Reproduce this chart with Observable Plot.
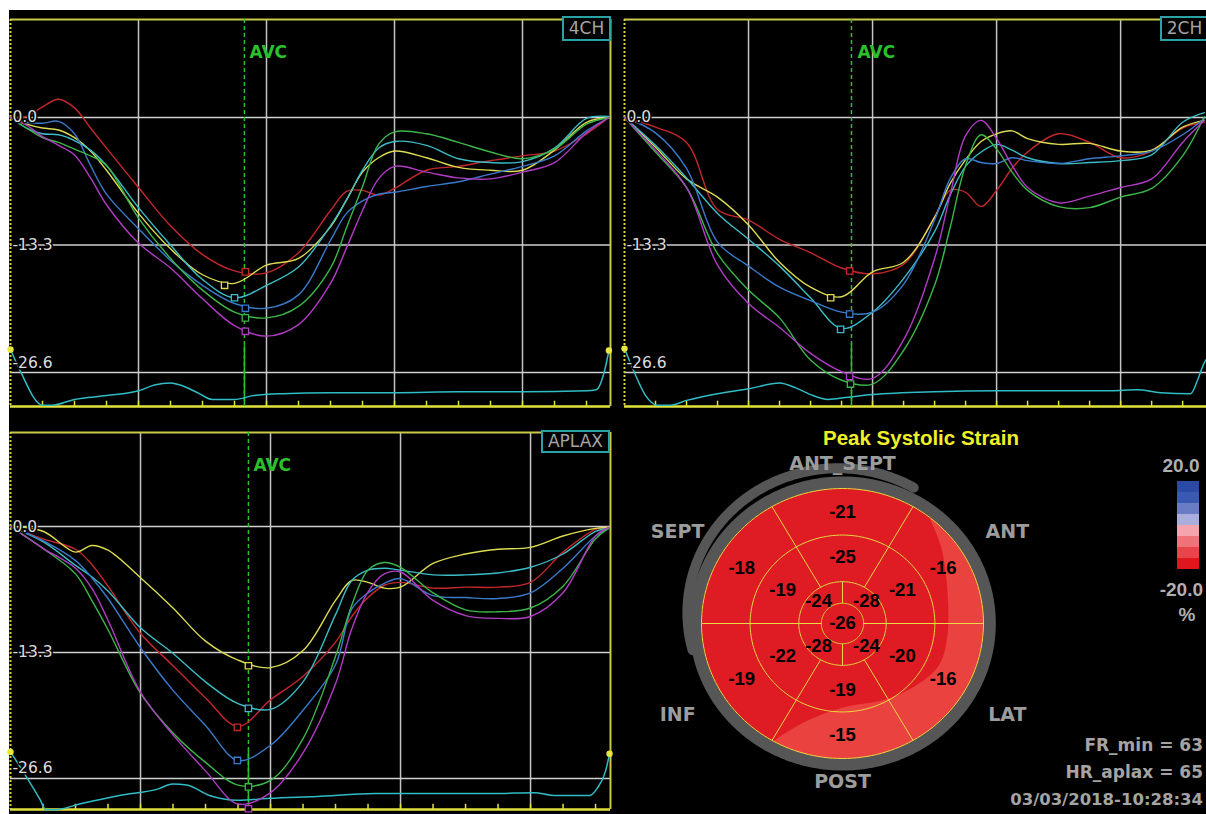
<!DOCTYPE html>
<html><head><meta charset="utf-8">
<script src="https://cdn.jsdelivr.net/npm/d3@7"></script>
<script src="https://cdn.jsdelivr.net/npm/@observablehq/plot@0.6"></script>
<style>
html,body{margin:0;padding:0;background:#fff;overflow:hidden;width:1206px;height:814px;position:relative;}
#bg{position:absolute;left:9px;top:10px;width:1197px;height:804px;background:#000;}
</style></head><body>
<div id="bg"></div>
<script>
// ================= DATA =================
const segmentNames = ["seg 1","seg 2","seg 3","seg 4","seg 5","seg 6"];
const segmentColors = ["#c4282c","#dcdc52","#3cbcc6","#3a7acb","#3cb64a","#b03cc4"];
const yTicks = [0, -13.3, -26.6];
const yTickLabels = ["0.0", "-13.3", "-26.6"];
const gridFrames = [4, 8, 12, 16];

// ---- 4CH ----
const frames4CH = [0,0.5,1,1.5,2,2.5,3,4,5,6,7,8,9,10,10.5,11,11.5,12,13,14,15,16,17,18,18.7];
const red4CH    = [0,0.1,1.1,1.9,1.0,-1.1,-3.2,-7.3,-11.3,-14.3,-16.0,-16.2,-14.1,-9.7,-7.7,-7.6,-8.1,-7.4,-5.5,-5.1,-4.5,-4.0,-3.5,-1.7,0];
const yellow4CH = [0,-0.7,-1.1,-1.3,-2.1,-3.5,-5.5,-10.0,-13.7,-16.4,-17.3,-15.4,-14.7,-11.4,-8.6,-5.7,-4.2,-3.5,-4.2,-5.2,-5.5,-5.5,-3.4,-0.5,0];
const cyan4CH   = [0,-1.1,-1.7,-1.8,-2.4,-3.4,-5.0,-9.4,-13.3,-16.9,-18.8,-17.5,-15.6,-11.3,-8.6,-5.5,-3.2,-2.5,-2.9,-4.3,-4.7,-4.6,-3.2,-0.1,0.1];
const blue4CH   = [0,-0.5,-0.6,-0.4,-1.7,-5.0,-8.0,-11.6,-14.9,-17.5,-19.4,-19.9,-18.5,-12.8,-10.0,-8.7,-8.0,-7.8,-7.2,-6.7,-5.9,-5.1,-4.0,-1.4,0];
const green4CH  = [0,-1.1,-2.1,-2.6,-3.3,-4.0,-5.0,-10.5,-14.7,-18.0,-20.3,-20.9,-19.7,-15.7,-11.5,-7.2,-2.8,-1.5,-1.7,-2.6,-3.6,-4.3,-3.3,-0.7,0];
const purple4CH = [0,-0.8,-2.0,-2.9,-3.9,-6.3,-9.1,-13.1,-15.7,-18.9,-21.7,-22.8,-21.6,-17.3,-13.6,-9.7,-6.4,-5.1,-5.7,-6.3,-6.4,-5.7,-4.7,-1.6,0];
const peakFrame4CH = [7.34,6.69,7.0,7.34,7.34,7.34];
const peakStrain4CH = [-16.1,-17.5,-18.8,-19.9,-20.9,-22.3];
const ecgFrames4CH = [0,0.3,1,1.3,2,3,4,4.5,5,5.3,5.9,6.3,7,7.6,8.5,10,12,14,16,18,18.3,18.55,18.7];
const ecg4CH = [-24.2,-26.4,-30.0,-30.0,-29.4,-29.0,-28.5,-27.9,-27.7,-27.9,-28.8,-29.4,-29.4,-29.0,-28.8,-28.7,-28.7,-28.6,-28.6,-28.5,-28.4,-26.6,-24.3];
const avc4CH = 7.31;

// ---- 2CH ----
const frames2CH = [0,1,2,3,4,5,6,7,8,9,10,10.5,11,11.5,12,12.5,13,14,15,16,17,18,18.7];
const red2CH    = [0,-1.0,-2.6,-9.6,-10.7,-12.7,-14.1,-15.7,-16.3,-15.3,-10.4,-7.6,-7.8,-9.3,-7.6,-5.3,-3.6,-1.7,-2.6,-4.2,-3.5,-1.1,-0.5];
const yellow2CH = [0,-3.1,-6.4,-8.3,-11.2,-15.1,-17.7,-18.7,-16.1,-15.1,-10.4,-6.9,-4.4,-2.5,-1.7,-1.4,-2.2,-2.8,-2.7,-3.5,-3.4,-1.0,-0.3];
const cyan2CH   = [0,-2.9,-6.3,-10.0,-12.7,-15.5,-18.8,-22.0,-20.3,-16.8,-11.9,-8.1,-5.1,-3.6,-2.8,-3.4,-4.2,-4.8,-4.7,-4.5,-3.9,-0.5,0.5];
const blue2CH   = [0,-1.6,-5.3,-13.0,-15.5,-17.7,-19.1,-20.3,-20.3,-17.4,-10.7,-6.4,-4.3,-4.7,-4.8,-4.2,-4.5,-4.8,-4.3,-4.0,-3.5,-1.8,-0.1];
const green2CH  = [0,-3.6,-7.3,-14.2,-18.0,-20.9,-25.3,-27.4,-27.8,-24.3,-17.5,-11.5,-5.0,-1.8,-3.3,-5.7,-7.6,-9.3,-9.4,-8.3,-7.4,-4.0,0.1];
const purple2CH = [0,-3.4,-7.3,-15.4,-19.4,-21.9,-24.6,-26.5,-27.2,-23.2,-14.7,-8.1,-1.9,-0.3,-2.2,-5.0,-7.3,-8.9,-8.2,-7.3,-6.4,-2.6,-0.3];
const peakFrame2CH = [7.26,6.65,6.97,7.26,7.29,7.26];
const peakStrain2CH = [-16.0,-18.8,-22.1,-20.5,-27.8,-27.0];
const ecgFrames2CH = [0,0.32,0.68,1.06,1.48,2,3,4,5,5.52,6,6.58,7.13,8,10,12,14,15.68,16.52,17.29,18.26,18.48,18.68,19.0];
const ecg2CH = [-24.1,-26.6,-29.0,-30.0,-30.0,-29.5,-28.8,-28.3,-27.7,-28.2,-28.9,-29.4,-29.2,-28.9,-28.6,-28.5,-28.5,-28.5,-28.4,-28.7,-28.8,-27.4,-25.7,-24.3];
const avc2CH = 7.32;

// ---- APLAX ----
const framesAPLAX = [0,1,2,2.5,3,4,5,6,7,8,9,10,10.5,11,11.5,12,13,14,15,16,17,18,18.4];
const redAPLAX    = [0,-1.3,-2.4,-4.0,-6.3,-11.3,-14.7,-18.1,-21.1,-18.3,-15.8,-12.2,-9.5,-7.5,-6.2,-5.9,-6.5,-6.4,-6.4,-5.9,-2.7,-0.3,-0.1];
const yellowAPLAX = [0,-0.5,-2.7,-2.0,-2.5,-5.4,-8.6,-12.1,-14.1,-14.9,-13.1,-7.8,-5.7,-5.9,-6.5,-6.4,-3.9,-2.9,-2.4,-2.2,-1.0,-0.2,-0.1];
const cyanAPLAX   = [0,-1.6,-4.1,-5.3,-6.8,-10.7,-13.4,-16.4,-18.7,-19.3,-16.4,-9.3,-5.7,-4.6,-4.4,-4.6,-5.1,-5.1,-4.9,-4.3,-2.9,-0.5,-0.2];
const blueAPLAX   = [0,-1.5,-3.6,-5.4,-7.6,-12.8,-17.3,-21.0,-24.7,-23.1,-19.4,-14.6,-8.7,-7.0,-6.0,-5.5,-7.3,-7.5,-7.6,-7.0,-4.4,-1.0,-0.2];
const greenAPLAX  = [0,-2.3,-5.0,-7.8,-10.9,-17.6,-21.8,-24.9,-27.3,-26.8,-22.4,-13.7,-8.3,-4.6,-3.8,-4.3,-7.0,-8.8,-9.0,-8.6,-6.3,-1.3,-0.2];
const purpleAPLAX = [0,-2.3,-4.4,-6.5,-9.9,-17.5,-22.0,-25.8,-29.3,-28.1,-23.9,-16.6,-10.8,-6.9,-5.0,-4.8,-7.8,-9.4,-9.7,-9.5,-7.0,-1.0,-0.1];
const peakFrameAPLAX = [6.98,7.32,7.32,6.98,7.32,7.32];
const peakStrainAPLAX = [-21.2,-14.7,-19.2,-24.7,-27.5,-29.8];
const ecgFramesAPLAX = [0,0.43,0.92,1.08,1.38,2.12,3.35,4.55,4.98,5.42,6.12,6.98,7.97,9.42,11.23,13.08,14.89,16.12,16.71,17.82,18.06,18.31,18.43];
const ecgAPLAX = [-23.8,-26.1,-28.9,-29.9,-29.9,-29.3,-28.4,-27.7,-27.2,-27.3,-28.4,-28.9,-28.7,-28.5,-28.2,-28.2,-28.2,-28.1,-28.4,-28.4,-27.6,-25.8,-24.0];
const avcAPLAX = 7.32;

// ---- Bull's-eye (peak systolic strain, %) ----
const basalNames   = ["ANT_SEPT","ANT","LAT","POST","INF","SEPT"];
const basalAngles  = [90,30,-30,-90,-150,150];
const basalStrain  = [-21,-16,-16,-15,-19,-18];
const midStrain    = [-25,-21,-20,-19,-22,-19];
const apicalAngles = [45,-45,-135,135];
const apicalStrain = [-28,-24,-28,-24];
const apexStrain   = -26;
// less-negative (lighter) zone edge of the smoothed map: angle (deg) and radius
const lightBandAngles = [51,39,20,-8,-25,-43,-62,-89,-109,-119];
const lightBandRadii  = [0.99,0.90,0.79,0.75,0.75,0.69,0.64,0.62,0.76,0.99];

// ---- colour legend ----
const legendColors = ["#2a4aa6","#3a5ab2","#6a7cc4","#a9aedc","#f4a4ac","#ee7278","#e8444a","#e0161e"];
const legendMaxLabel = "20.0", legendMinLabel = "-20.0", legendUnit = "%";
const infoLines = ["FR_min = 63", "HR_aplax = 65", "03/03/2018-10:28:34"];

// ================= HELPERS =================
function mount(node, left, top) {
  const w = document.createElement("div");
  Object.assign(w.style, {position:"absolute", left:left+"px", top:top+"px"});
  w.appendChild(node); document.body.appendChild(w);
}
function addText(txt, x, y, o = {}) {
  const d = document.createElement("div");
  d.textContent = txt;
  const tx = o.anchor === "middle" ? "-50%" : o.anchor === "end" ? "-100%" : "0";
  Object.assign(d.style, {
    position:"absolute", left:x+"px", top:y+"px",
    font:`${o.weight||"bold"} ${o.size||17}px ${o.family||"'DejaVu Sans'"}`,
    color:o.color||"#a8a8a8", lineHeight:"1", whiteSpace:"nowrap",
    transform:`translate(${tx},-50%)`
  });
  document.body.appendChild(d);
}
function addBox(txt, x, y, w, h) {
  const d = document.createElement("div");
  d.textContent = txt;
  Object.assign(d.style, {position:"absolute", left:x+"px", top:y+"px", width:w+"px", height:h+"px",
    boxSizing:"border-box", border:"2px solid #2aa3a6", color:"#a4a4a4", font:"17px 'DejaVu Sans'",
    textAlign:"center", lineHeight:(h-4)+"px", whiteSpace:"nowrap", overflow:"hidden", background:"#000"});
  document.body.appendChild(d);
}

function panel(c) {
  const rows = [];
  c.series.forEach((arr, i) => arr.forEach((v, j) => rows.push({seg: segmentNames[i], f: c.frames[j], v})));
  const peaks = c.peakFrames.map((f, i) => ({seg: segmentNames[i], f, v: c.peakStrain[i]}));
  const ecg = c.ecgFrames.map((f, i) => ({f, v: c.ecg[i]}));
  const [yMin, yMax] = c.yDomain;
  const ticks = d3.range(1, Math.ceil(c.xMax));
  const lblFont = {fontFamily:"DejaVu Sans", fontSize:15.5, fill:"#dcdcdc", stroke:"black", strokeWidth:3, textAnchor:"start"};
  return Plot.plot({
    width: c.width, height: c.height,
    marginLeft: 10, marginRight: 10, marginTop: 19, marginBottom: 6,
    x: {domain: [0, c.xMax], axis: null},
    y: {domain: c.yDomain, axis: null},
    color: {type: "ordinal", domain: segmentNames, range: segmentColors},
    style: "background:transparent;max-width:none;overflow:visible;",
    marks: [
      Plot.ruleX(gridFrames, {stroke: "#c4c4c4", strokeWidth: 1.5}),
      Plot.ruleY(yTicks, {stroke: "#d0d0d0", strokeWidth: 1.5}),
      Plot.ruleY([yMax], {stroke: "#c8c84c", strokeWidth: 2}),
      Plot.ruleX([0], {stroke: "#d8d040", strokeWidth: 2, strokeDasharray: "2,2"}),
      c.rightBorder ? Plot.ruleX([c.xMax], {stroke: "#c8c84c", strokeWidth: 2}) : null,
      Plot.ruleY([yMin], {stroke: "#e2e23c", strokeWidth: 2.5}),
      Plot.ruleX(ticks, {y1: yMin, y2: yMin + 0.55, stroke: "#e2e23c", strokeWidth: 1.5}),
      Plot.ruleX([c.avc], {stroke: "#2cc02c", strokeWidth: 1.5, strokeDasharray: "4,3"}),
      Plot.ruleX([c.avc], {y1: yMin, y2: c.avcSolidTop, stroke: "#2cc02c", strokeWidth: 1.5}),
      Plot.line(ecg, {x: "f", y: "v", stroke: "#30bcc4", strokeWidth: 1.5, curve: "monotone-x"}),
      Plot.dot([ecg[0], ecg[ecg.length - 1]], {x: "f", y: "v", r: 3.2, fill: "#e8e83a"}),
      Plot.line(rows, {x: "f", y: "v", z: "seg", stroke: "seg", strokeWidth: 1.4, curve: "catmull-rom"}),
      Plot.dot(peaks, {x: "f", y: "v", stroke: "seg", symbol: "square", r: 3.6, fill: "black", strokeWidth: 1.3}),
      Plot.text(yTicks.slice(0, 2), {x: 0, y: d => d, text: (d, i) => yTickLabels[i], dx: 2, ...lblFont}),
      Plot.text([yTicks[2]], {x: 0, y: d => d, text: () => yTickLabels[2], dx: 2, dy: -10, ...lblFont}),
      Plot.text(["AVC"], {x: c.avc, frameAnchor: "top", dx: c.avcDx, dy: 26, textAnchor: "start",
        fill: "#2cc02c", fontWeight: "bold", fontSize: 17, fontFamily: "DejaVu Sans"})
    ]
  });
}

// ================= PANELS =================
mount(panel({
  width: 620, height: 412, xMax: 18.75, yDomain: [-30.14, 10.22], rightBorder: true,
  frames: frames4CH, series: [red4CH, yellow4CH, cyan4CH, blue4CH, green4CH, purple4CH],
  peakFrames: peakFrame4CH, peakStrain: peakStrain4CH,
  ecgFrames: ecgFrames4CH, ecg: ecg4CH, avc: avc4CH, avcSolidTop: -23.8, avcDx: 5
}), 0, 0);
mount(panel({
  width: 620, height: 412, xMax: 19.35, yDomain: [-30.14, 10.22], rightBorder: false,
  frames: frames2CH, series: [red2CH, yellow2CH, cyan2CH, blue2CH, green2CH, purple2CH],
  peakFrames: peakFrame2CH, peakStrain: peakStrain2CH,
  ecgFrames: ecgFrames2CH, ecg: ecg2CH, avc: avc2CH, avcSolidTop: -23.6, avcDx: 6
}), 614, 0);
mount(panel({
  width: 620, height: 402, xMax: 18.46, yDomain: [-29.88, 9.93], rightBorder: true,
  frames: framesAPLAX, series: [redAPLAX, yellowAPLAX, cyanAPLAX, blueAPLAX, greenAPLAX, purpleAPLAX],
  peakFrames: peakFrameAPLAX, peakStrain: peakStrainAPLAX,
  ecgFrames: ecgFramesAPLAX, ecg: ecgAPLAX, avc: avcAPLAX, avcSolidTop: -23.7, avcDx: 5
}), 0, 413);

addBox("4CH", 562, 16, 49, 25);
addBox("2CH", 1160, 16, 49, 25);
addBox("APLAX", 541, 430, 69, 23);

// ================= BULL'S-EYE =================
const RING = {outer: 1, mid: 0.655, apical: 0.31, apex: 0.15};
const polar = (r, deg) => [r * Math.cos(deg * Math.PI / 180), r * Math.sin(deg * Math.PI / 180)];
function arc(r, a0, a1, cx = 0, cy = 0) {
  const n = Math.max(2, Math.ceil(Math.abs(a1 - a0) / 2) + 1);
  return d3.range(n).map(i => { const [x, y] = polar(r, a0 + (a1 - a0) * i / (n - 1)); return {x: x + cx, y: y + cy}; });
}
function sector(id, r0, r1, a0, a1) {
  const pts = r0 > 0 ? [...arc(r1, a0, a1), ...arc(r0, a1, a0)] : arc(r1, a0, a1);
  return pts.map(p => ({...p, id}));
}
const segPolys = [];
basalAngles.forEach((a, i) => segPolys.push(...sector("b" + i, RING.mid, RING.outer, a - 30, a + 30)));
basalAngles.forEach((a, i) => segPolys.push(...sector("m" + i, RING.apical, RING.mid, a - 30, a + 30)));
apicalAngles.forEach((a, i) => segPolys.push(...sector("a" + i, RING.apex, RING.apical, a - 45, a + 45)));
segPolys.push(...sector("apex", 0, RING.apex, 0, 360));

const lightPoly = [
  ...lightBandAngles.map((a, i) => { const [x, y] = polar(lightBandRadii[i], a); return {x, y}; }),
  ...arc(RING.outer, lightBandAngles[lightBandAngles.length - 1], lightBandAngles[0])
];
const ringLines = [RING.outer, RING.mid, RING.apical, RING.apex].flatMap((r, k) => arc(r, 0, 360).map(p => ({...p, id: k})));
const dividers = [
  ...[0, 60, 120, 180, 240, 300].map(a => ({a, r0: RING.apical, r1: RING.outer})),
  ...[0, 90, 180, 270].map(a => ({a, r0: RING.apex, r1: RING.apical}))
];
const valueLabels = [
  ...basalAngles.map((a, i) => ({p: polar(0.825, a), t: String(basalStrain[i])})),
  ...basalAngles.map((a, i) => ({p: polar(0.49, a), t: String(midStrain[i])})),
  ...apicalAngles.map((a, i) => ({p: polar(0.24, a), t: String(apicalStrain[i])})),
  {p: [0, 0], t: String(apexStrain)}
];
const regionR = [1.185, 1.35, 1.35, 1.175, 1.35, 1.35];
const regionLabels = basalAngles.map((a, i) => ({p: polar(regionR[i], a), t: basalNames[i]}));

// SVG at (630,440) size 390x370, centre (842,623), 141 px/unit horizontally, 135 px/unit vertically
const bull = Plot.plot({
  width: 390, height: 370, margin: 0,
  x: {domain: [(0 - 212) / 141, (390 - 212) / 141], axis: null},
  y: {domain: [(183 - 370) / 135, 183 / 135], axis: null},
  style: "background:transparent;max-width:none;overflow:visible;",
  marks: [
    Plot.line(arc(1.045, 0, 360), {x: "x", y: "y", stroke: "#565656", strokeWidth: 12}),
    Plot.line(arc(1.07, 60, 195, -0.03, 0.08), {x: "x", y: "y", stroke: "#565656", strokeWidth: 10}),
    Plot.line(segPolys, {x: "x", y: "y", z: "id", fill: "#df1c24", stroke: "none"}),
    Plot.line(lightPoly, {x: "x", y: "y", fill: "#e9423f", stroke: "none", curve: "catmull-rom"}),
    Plot.line(ringLines, {x: "x", y: "y", z: "id", stroke: "#ecd844", strokeWidth: 1}),
    Plot.link(dividers, {x1: d => polar(d.r0, d.a)[0], y1: d => polar(d.r0, d.a)[1],
      x2: d => polar(d.r1, d.a)[0], y2: d => polar(d.r1, d.a)[1], stroke: "#ecd844", strokeWidth: 1}),
    Plot.text(valueLabels, {x: d => d.p[0], y: d => d.p[1], text: "t", fill: "black",
      fontWeight: "bold", fontSize: 18.5, fontFamily: "Liberation Sans"}),
    Plot.text(regionLabels, {x: d => d.p[0], y: d => d.p[1], text: "t", fill: "#9c9c9c",
      fontWeight: "bold", fontSize: 19, fontFamily: "DejaVu Sans"})
  ]
});
mount(bull, 630, 440);

addText("Peak Systolic Strain", 921, 438, {anchor: "middle", size: 20.5, family: "'Liberation Sans'", color: "#f0f028"});

// ================= LEGEND =================
const legend = Plot.plot({
  width: 22, height: 93, margin: 0,
  x: {axis: null, padding: 0}, y: {axis: null, padding: 0},
  color: {type: "identity"},
  style: "background:transparent;max-width:none;",
  marks: [Plot.cell(legendColors, {x: () => 0, y: (d, i) => i, fill: d => d})]
});
mount(legend, 1177, 478);
addText(legendMaxLabel, 1181, 465, {anchor: "middle", size: 19, family: "'Liberation Sans'", color: "#b0b0b0"});
addText(legendMinLabel, 1203, 589, {anchor: "end", size: 19, family: "'Liberation Sans'", color: "#b0b0b0"});
addText(legendUnit, 1187, 614, {anchor: "middle", size: 19, family: "'Liberation Sans'", color: "#b0b0b0"});

addText(infoLines[0], 1203, 745, {anchor: "end", size: 17, color: "#a4a4a4"});
addText(infoLines[1], 1203, 772, {anchor: "end", size: 17, color: "#a4a4a4"});
addText(infoLines[2], 1203, 800, {anchor: "end", size: 16.5, color: "#a4a4a4"});
</script>
</body></html>
